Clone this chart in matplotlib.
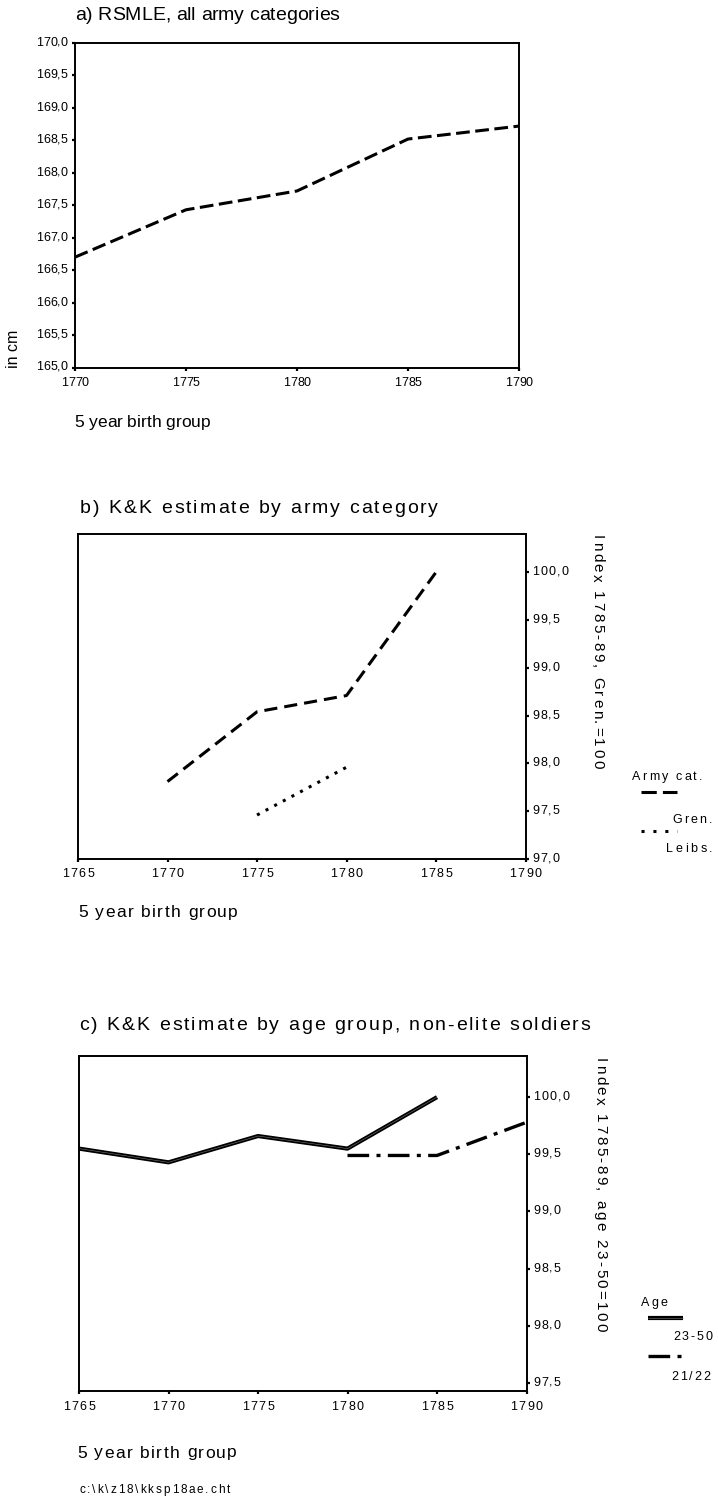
# -*- coding: utf-8 -*-
"""
Height trends by 5 year birth group: RSMLE and K&K index panels.
"""

import matplotlib
matplotlib.use('Agg')
import matplotlib.pyplot as plt
from matplotlib.lines import Line2D
from matplotlib import font_manager
from matplotlib.ft2font import FT2Font

# --- data ---------------------------------------------------------------
years_a = [1770, 1775, 1780, 1785, 1790]
rsmle_cm = [166.7, 167.43, 167.72, 168.52, 168.72]

years_gren = [1770, 1775, 1780, 1785]
gren_index = [97.81, 98.54, 98.71, 100.0]
years_leibs = [1775, 1780]
leibs_index = [97.46, 97.96]

years_2350 = [1765, 1770, 1775, 1780, 1785]
age_2350 = [99.55, 99.43, 99.66, 99.55, 100.0]
years_2122 = [1780, 1785, 1790]
age_2122 = [99.49, 99.49, 99.78]

xticks_a = [1770, 1775, 1780, 1785, 1790]
yticks_a = [165.0, 165.5, 166.0, 166.5, 167.0, 167.5, 168.0, 168.5, 169.0, 169.5, 170.0]
xticks_bc = [1765, 1770, 1775, 1780, 1785, 1790]
yticks_b = [97.0, 97.5, 98.0, 98.5, 99.0, 99.5, 100.0]
yticks_c = [97.5, 98.0, 98.5, 99.0, 99.5, 100.0]

# --- figure -------------------------------------------------------------
W, H, DPI = 718, 1499, 100
FONT = 'Liberation Sans'
fig = plt.figure(figsize=(W / DPI, H / DPI), dpi=DPI)
fig.patch.set_facecolor('white')

ft = FT2Font(font_manager.findfont(font_manager.FontProperties(family=FONT)))


def advances(s, size):
    ft.set_size(size, DPI)
    return [ft.load_char(ord(ch)).linearHoriAdvance / 65536.0 for ch in s]


def spaced(x, y, s, size, track=0.0, ha='left', rot=0):
    """draw s letter by letter with extra spacing; x, y in px from top-left"""
    adv = advances(s, size)
    total = sum(adv) + track * (len(s) - 1)
    pos = {'left': 0.0, 'center': -total / 2, 'right': -total}[ha]
    for ch, a in zip(s, adv):
        if rot == 0:
            px, py = x + pos, y
        else:
            px, py = x, y + pos
        fig.text(px / W, 1 - py / H, ch, size=size, family=FONT,
                 rotation=rot, rotation_mode='anchor', ha='left', va='center')
        pos += a + track


def to_px(ax, x, y):
    dx, dy = ax.transData.transform((x, y))
    return dx, H - dy


def fig_line(x0, x1, y, **kw):
    fig.add_artist(Line2D([x0 / W, x1 / W], [1 - y / H, 1 - y / H],
                          transform=fig.transFigure, **kw))


def make_axes(left, top, right, bottom):
    ax = fig.add_axes([left / W, 1 - bottom / H, (right - left) / W, (bottom - top) / H])
    for sp in ax.spines.values():
        sp.set_linewidth(1.4)
        sp.set_color('black')
    ax.tick_params(length=2.2, width=1.6, color='black')
    return ax


def fmt(v):
    return ('%.1f' % v).replace('.', ',')


# --- a) RSMLE -----------------------------------------------------------
ax1 = make_axes(75, 43, 519, 367.5)
ax1.plot(years_a, rsmle_cm, color='black', lw=2.2, dashes=(4.5, 1.8),
         dash_capstyle='butt')
ax1.set_xlim(1770, 1790)
ax1.set_ylim(165.0, 170.0)
ax1.set_xticks(xticks_a)
ax1.set_yticks(yticks_a)
ax1.set_xticklabels([])
ax1.set_yticklabels([])

spaced(75, 16, 'a) RSMLE, all army categories', 14)
for v in yticks_a:
    px, py = to_px(ax1, 1770, v)
    spaced(px - 7.5, py, fmt(v), 9, ha='right')
for v in xticks_a:
    px, py = to_px(ax1, v, 165.0)
    spaced(px, py + 15, str(v), 9, ha='center')
fig.text(14 / W, 1 - 349 / H, 'in cm', size=11.5, family=FONT, rotation=90,
         ha='center', va='center')
spaced(74, 422.5, '5 year birth group', 12.5)

# --- b) K&K by army category --------------------------------------------
ax2 = make_axes(78, 534, 525.5, 859)
ax2.plot(years_gren, gren_index, color='black', lw=2.2, dashes=(4.3, 2.3),
         dash_capstyle='butt')
ax2.plot(years_leibs, leibs_index, color='black', lw=2.2, dashes=(1.0, 2.2),
         dash_capstyle='butt')
ax2.set_xlim(1765, 1790)
ax2.set_ylim(97.0, 100.4)
ax2.yaxis.tick_right()
ax2.set_xticks(xticks_bc)
ax2.set_yticks(yticks_b)
ax2.set_xticklabels([])
ax2.set_yticklabels([])

spaced(80, 508, 'b) K&K estimate by army category', 14, track=2.0)
for v in yticks_b:
    px, py = to_px(ax2, 1790, v)
    spaced(px + 6.5, py, fmt(v), 9, track=1.2)
for v in xticks_bc:
    px, py = to_px(ax2, v, 97.0)
    spaced(px, py + 14.5, str(v), 9, track=1.5, ha='center')
spaced(597, 535, 'Index 1785-89, Gren.=100', 11, track=2.4, rot=-90)
spaced(78, 912.7, '5 year birth group', 12.5, track=1.4)

# legend
spaced(632, 777, 'Army cat.', 9, track=2.2)
fig_line(641, 677, 792, color='black', lw=2.2, dashes=(5, 2), dash_capstyle='butt')
spaced(712, 820, 'Gren.', 9, track=2.2, ha='right')
fig_line(641, 677, 831, color='black', lw=2.2, dashes=(1, 2.9), dash_capstyle='butt')
spaced(712.5, 849.5, 'Leibs.', 9, track=2.6, ha='right')

# --- c) K&K by age group ------------------------------------------------
ax3 = make_axes(79, 1056, 526.5, 1391)
ax3.plot(years_2350, age_2350, color='black', lw=3.0, solid_capstyle='butt')
ax3.plot(years_2350, age_2350, color='#777777', lw=0.4, solid_capstyle='butt')
ax3.plot(years_2122, age_2122, color='black', lw=2.4,
         dashes=(6.5, 2.2, 1.2, 2.2), dash_capstyle='butt')
ax3.set_xlim(1765, 1790)
ax3.set_ylim(97.43, 100.36)
ax3.yaxis.tick_right()
ax3.set_xticks(xticks_bc)
ax3.set_yticks(yticks_c)
ax3.set_xticklabels([])
ax3.set_yticklabels([])

spaced(79, 1026, 'c) K&K estimate by age group, non-elite soldiers', 14, track=2.0)
for v in yticks_c:
    px, py = to_px(ax3, 1790, v)
    spaced(px + 6.5, py, fmt(v), 9, track=1.2)
for v in xticks_bc:
    px, py = to_px(ax3, v, 97.43)
    spaced(px, py + 15.5, str(v), 9, track=1.5, ha='center')
spaced(600, 1058, 'Index 1785-89, age 23-50=100', 11, track=2.4, rot=-90)
spaced(77, 1453, '5 year birth group', 12.5, track=1.4)

# legend
spaced(641, 1303, 'Age', 9, track=2.2)
fig_line(648, 683, 1318, color='black', lw=3.0, solid_capstyle='butt')
fig_line(648, 683, 1318, color='#777777', lw=0.4, solid_capstyle='butt')
spaced(712, 1337, '23-50', 9, track=1.8, ha='right')
fig_line(648, 683, 1356, color='black', lw=2.4, dashes=(6.5, 2.2, 1.2, 2.2),
         dash_capstyle='butt')
spaced(710, 1377, '21/22', 9, track=1.8, ha='right')

spaced(79, 1490, 'c:\\k\\z18\\kksp18ae.cht', 8.5, track=1.9)

fig.savefig('out.png', dpi=DPI, facecolor='white')
